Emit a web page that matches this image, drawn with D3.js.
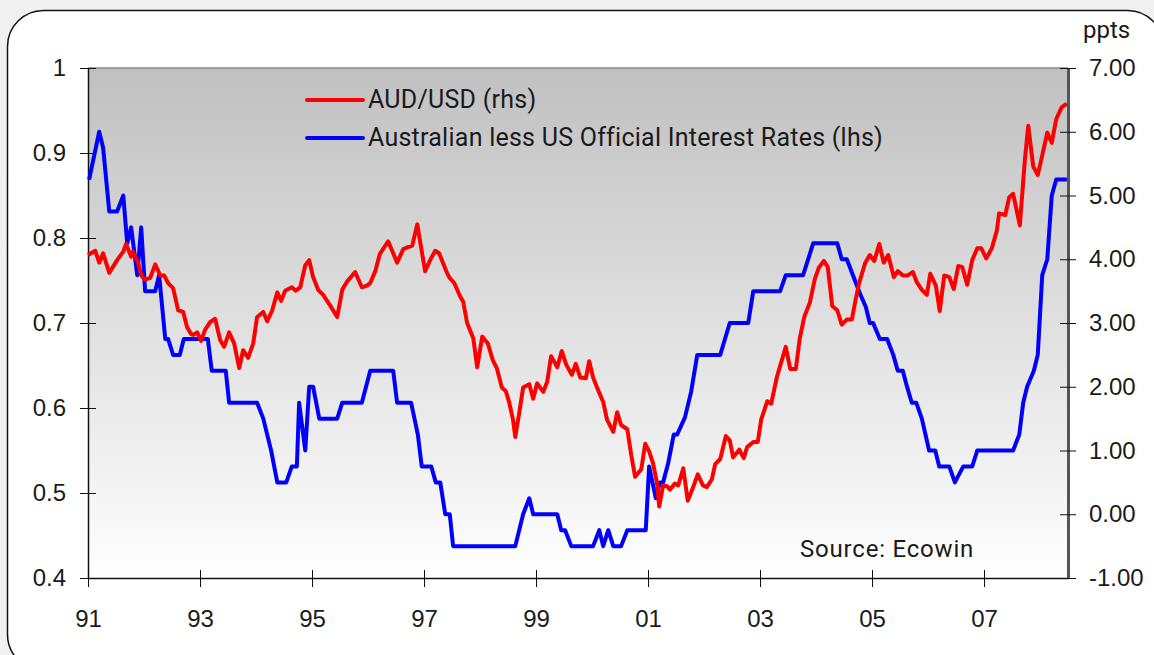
<!DOCTYPE html>
<html>
<head>
<meta charset="utf-8">
<script src="https://cdn.jsdelivr.net/npm/d3@7"></script>
<style>
  body { margin: 0; background: #f0f0f0; }
  svg { display: block; font-family: Roboto, "Noto Sans", sans-serif; }
  .axis text { font-size: 24px; fill: #1a1a1a; }
</style>
</head>
<body>
<script>
// AUD/USD (decimal year, value on the left scale)
var audDates = [1991.00, 1991.13, 1991.20, 1991.27, 1991.38, 1991.52, 1991.63, 1991.68, 1991.77, 1991.80,
  1991.89, 1991.95, 1992.02, 1992.11, 1992.20, 1992.29, 1992.36, 1992.43, 1992.52, 1992.61,
  1992.70, 1992.77, 1992.84, 1992.88, 1992.95, 1993.02, 1993.09, 1993.18, 1993.27, 1993.36,
  1993.43, 1993.52, 1993.61, 1993.70, 1993.77, 1993.86, 1993.95, 1994.02, 1994.13, 1994.20,
  1994.29, 1994.38, 1994.45, 1994.52, 1994.64, 1994.71, 1994.79, 1994.88, 1994.95, 1995.02,
  1995.11, 1995.20, 1995.32, 1995.45, 1995.54, 1995.63, 1995.77, 1995.89, 1995.98, 1996.04,
  1996.13, 1996.21, 1996.36, 1996.45, 1996.52, 1996.63, 1996.70, 1996.79, 1996.88, 1997.02,
  1997.11, 1997.20, 1997.27, 1997.41, 1997.46, 1997.54, 1997.64, 1997.70, 1997.77, 1997.88,
  1997.95, 1998.04, 1998.14, 1998.23, 1998.30, 1998.39, 1998.46, 1998.52, 1998.59, 1998.63,
  1998.70, 1998.77, 1998.88, 1998.95, 1999.02, 1999.13, 1999.20, 1999.27, 1999.38, 1999.46,
  1999.54, 1999.64, 1999.71, 1999.79, 1999.89, 1999.95, 2000.02, 2000.11, 2000.20, 2000.27,
  2000.38, 2000.45, 2000.52, 2000.63, 2000.70, 2000.77, 2000.88, 2000.95, 2001.02, 2001.09,
  2001.16, 2001.20, 2001.27, 2001.34, 2001.39, 2001.48, 2001.54, 2001.63, 2001.71, 2001.79,
  2001.89, 2001.98, 2002.05, 2002.14, 2002.20, 2002.29, 2002.39, 2002.46, 2002.52, 2002.63,
  2002.71, 2002.77, 2002.88, 2002.96, 2003.02, 2003.13, 2003.20, 2003.30, 2003.46, 2003.54,
  2003.64, 2003.71, 2003.79, 2003.89, 2003.98, 2004.05, 2004.14, 2004.21, 2004.29, 2004.38,
  2004.46, 2004.55, 2004.64, 2004.70, 2004.77, 2004.88, 2004.96, 2005.04, 2005.13, 2005.21,
  2005.29, 2005.39, 2005.46, 2005.55, 2005.64, 2005.73, 2005.80, 2005.89, 2005.98, 2006.04,
  2006.14, 2006.21, 2006.29, 2006.38, 2006.46, 2006.54, 2006.61, 2006.70, 2006.79, 2006.88,
  2006.95, 2007.04, 2007.14, 2007.23, 2007.27, 2007.38, 2007.45, 2007.52, 2007.64, 2007.73,
  2007.79, 2007.88, 2007.96, 2008.05, 2008.13, 2008.21, 2008.29, 2008.39, 2008.48];
var audValues = [0.780, 0.785, 0.771, 0.782, 0.759, 0.774, 0.784, 0.793, 0.778, 0.784,
  0.772, 0.756, 0.751, 0.753, 0.769, 0.756, 0.756, 0.747, 0.741, 0.715,
  0.713, 0.695, 0.687, 0.686, 0.689, 0.679, 0.692, 0.701, 0.705, 0.680,
  0.672, 0.689, 0.676, 0.647, 0.668, 0.659, 0.676, 0.707, 0.713, 0.702,
  0.715, 0.736, 0.726, 0.738, 0.742, 0.738, 0.742, 0.768, 0.774, 0.754,
  0.739, 0.733, 0.721, 0.707, 0.739, 0.749, 0.760, 0.742, 0.744, 0.747,
  0.761, 0.781, 0.796, 0.782, 0.771, 0.787, 0.789, 0.791, 0.816, 0.761,
  0.774, 0.785, 0.782, 0.759, 0.753, 0.747, 0.732, 0.725, 0.700, 0.682,
  0.648, 0.684, 0.676, 0.656, 0.647, 0.624, 0.620, 0.607, 0.586, 0.566,
  0.594, 0.624, 0.628, 0.611, 0.629, 0.619, 0.631, 0.661, 0.648, 0.667,
  0.651, 0.639, 0.652, 0.636, 0.635, 0.655, 0.636, 0.621, 0.607, 0.586,
  0.572, 0.595, 0.580, 0.575, 0.545, 0.519, 0.528, 0.558, 0.549, 0.535,
  0.512, 0.484, 0.509, 0.508, 0.504, 0.511, 0.509, 0.529, 0.491, 0.504,
  0.522, 0.509, 0.507, 0.516, 0.534, 0.540, 0.567, 0.562, 0.542, 0.551,
  0.541, 0.554, 0.560, 0.560, 0.586, 0.608, 0.605, 0.636, 0.672, 0.646,
  0.646, 0.682, 0.707, 0.724, 0.752, 0.765, 0.773, 0.766, 0.720, 0.715,
  0.698, 0.704, 0.704, 0.725, 0.747, 0.771, 0.780, 0.773, 0.793, 0.771,
  0.780, 0.754, 0.761, 0.756, 0.756, 0.760, 0.748, 0.739, 0.733, 0.758,
  0.744, 0.714, 0.756, 0.754, 0.740, 0.767, 0.766, 0.745, 0.774, 0.788,
  0.788, 0.776, 0.788, 0.809, 0.829, 0.827, 0.848, 0.852, 0.815, 0.892,
  0.932, 0.884, 0.874, 0.900, 0.924, 0.912, 0.940, 0.954, 0.958];

// Australian less US official rates, ppts (right scale)
var rateDates = [1991.02, 1991.20, 1991.27, 1991.38, 1991.52, 1991.63, 1991.70, 1991.77, 1991.88, 1991.95,
  1992.02, 1992.20, 1992.27, 1992.38, 1992.43, 1992.52, 1992.64, 1992.71, 1993.14, 1993.21,
  1993.46, 1993.52, 1994.02, 1994.13, 1994.27, 1994.38, 1994.54, 1994.64, 1994.73, 1994.77,
  1994.88, 1994.95, 1995.02, 1995.13, 1995.45, 1995.54, 1995.89, 1996.04, 1996.45, 1996.52,
  1996.77, 1996.89, 1996.96, 1997.13, 1997.21, 1997.29, 1997.38, 1997.46, 1997.52, 1998.63,
  1998.77, 1998.88, 1998.95, 1999.38, 1999.45, 1999.52, 1999.63, 2000.02, 2000.13, 2000.20,
  2000.29, 2000.38, 2000.52, 2000.63, 2000.96, 2001.02, 2001.14, 2001.21, 2001.27, 2001.36,
  2001.46, 2001.52, 2001.66, 2001.77, 2001.88, 2002.29, 2002.46, 2002.79, 2002.88, 2003.36,
  2003.46, 2003.77, 2003.95, 2004.38, 2004.46, 2004.55, 2004.66, 2004.79, 2004.89, 2004.96,
  2005.02, 2005.14, 2005.27, 2005.38, 2005.46, 2005.55, 2005.61, 2005.71, 2005.79, 2005.89,
  2006.02, 2006.13, 2006.20, 2006.38, 2006.48, 2006.63, 2006.79, 2006.88, 2007.52, 2007.63,
  2007.70, 2007.77, 2007.89, 2007.96, 2008.04, 2008.13, 2008.21, 2008.29, 2008.48];
var rateValues = [5.25, 6.00, 5.75, 4.75, 4.75, 5.00, 4.25, 4.50, 3.75, 4.50,
  3.50, 3.50, 3.75, 2.75, 2.75, 2.50, 2.50, 2.75, 2.75, 2.25,
  2.25, 1.75, 1.75, 1.50, 1.00, 0.50, 0.50, 0.75, 0.75, 1.75,
  1.00, 2.00, 2.00, 1.50, 1.50, 1.75, 1.75, 2.25, 2.25, 1.75,
  1.75, 1.25, 0.75, 0.75, 0.50, 0.50, 0.00, 0.00, -0.50, -0.50,
  0.00, 0.25, 0.00, 0.00, -0.25, -0.25, -0.50, -0.50, -0.25, -0.50,
  -0.25, -0.50, -0.50, -0.25, -0.25, 0.75, 0.25, 0.50, 0.50, 0.80,
  1.25, 1.25, 1.52, 1.92, 2.50, 2.50, 3.00, 3.00, 3.50, 3.50,
  3.75, 3.75, 4.25, 4.25, 4.00, 4.00, 3.75, 3.45, 3.25, 3.00,
  3.00, 2.75, 2.75, 2.50, 2.25, 2.25, 2.05, 1.75, 1.75, 1.50,
  1.00, 1.00, 0.75, 0.75, 0.50, 0.75, 0.75, 1.00, 1.00, 1.25,
  1.75, 2.00, 2.25, 2.50, 3.75, 4.00, 5.00, 5.25, 5.25];

var leftTicks = [0.4, 0.5, 0.6, 0.7, 0.8, 0.9, 1];
var rightTicks = [-1, 0, 1, 2, 3, 4, 5, 6, 7];
var yearTicks = [1991, 1993, 1995, 1997, 1999, 2001, 2003, 2005, 2007];
var seriesNames = ["AUD/USD (rhs)", "Australian less US Official Interest Rates (lhs)"];
var seriesColors = ["#ff0000", "#0000ff"];

var W = 1154, H = 655;
var margin = {top: 68, right: 86, bottom: 77, left: 88},
    width = W - margin.left - margin.right,
    height = H - margin.top - margin.bottom;

var svg = d3.select("body").append("svg")
    .attr("width", W)
    .attr("height", H);

// rounded white panel
svg.append("rect")
    .attr("x", 7.5).attr("y", 10.5)
    .attr("width", 1156).attr("height", 660)
    .attr("rx", 36).attr("ry", 36)
    .attr("fill", "#fff")
    .attr("stroke", "#111")
    .attr("stroke-width", 1.5);

var defs = svg.append("defs");
var grad = defs.append("linearGradient")
    .attr("id", "bg").attr("x1", 0).attr("y1", 0).attr("x2", 0).attr("y2", 1);
grad.append("stop").attr("offset", "0%").attr("stop-color", "#c0c0c0");
grad.append("stop").attr("offset", "100%").attr("stop-color", "#ffffff");

var g = svg.append("g")
    .attr("transform", "translate(" + margin.left + "," + margin.top + ")");

var x = d3.scaleLinear().domain([1991, 2008.5]).range([0, width]);
var yL = d3.scaleLinear().domain([0.4, 1]).range([height, 0]);
var yR = d3.scaleLinear().domain([-1, 7]).range([height, 0]);

g.append("rect")
    .attr("width", width).attr("height", height)
    .attr("fill", "url(#bg)");

// top edge of plot
g.append("line")
    .attr("x1", 0).attr("x2", width)
    .attr("stroke", "#8a8a8a").attr("stroke-width", 1.5);

// x axis
var xAxis = g.append("g")
    .attr("class", "axis")
    .attr("transform", "translate(0," + height + ")")
    .call(d3.axisBottom(x).tickValues(yearTicks).tickSize(9).tickSizeOuter(0).tickPadding(23)
      .tickFormat(function(d) { return String(d).slice(2); }));
xAxis.selectAll(".tick line").attr("y1", -8).attr("stroke", "#111");
xAxis.select(".domain").attr("stroke", "#111").attr("stroke-width", 1.5);

// left axis
var lAxis = g.append("g")
    .attr("class", "axis")
    .call(d3.axisLeft(yL).tickValues(leftTicks).tickSize(8).tickSizeOuter(0).tickPadding(14)
      .tickFormat(function(d) { return String(d); }));
lAxis.selectAll(".tick line").attr("x1", 8).attr("stroke", "#111");
lAxis.select(".domain").attr("stroke", "#111").attr("stroke-width", 1.5);

// right axis
var rAxis = g.append("g")
    .attr("class", "axis")
    .attr("transform", "translate(" + width + ",0)")
    .call(d3.axisRight(yR).tickValues(rightTicks).tickSize(8).tickSizeOuter(0).tickPadding(13)
      .tickFormat(function(d) { return d.toFixed(2); }));
rAxis.selectAll(".tick line").attr("x1", -8).attr("stroke", "#111");
rAxis.select(".domain").attr("stroke", "#555").attr("stroke-width", 3);

svg.append("text")
    .attr("x", 1083).attr("y", 38)
    .attr("font-size", 24).attr("fill", "#1a1a1a")
    .text("ppts");

// lines
var audLine = d3.line()
    .x(function(d, i) { return x(audDates[i]); })
    .y(function(d) { return yL(d); });
var rateLine = d3.line()
    .x(function(d, i) { return x(rateDates[i]); })
    .y(function(d) { return yR(d); });

g.append("path")
    .datum(rateValues)
    .attr("d", rateLine)
    .attr("fill", "none")
    .attr("stroke", seriesColors[1])
    .attr("stroke-width", 4)
    .attr("stroke-linejoin", "round");

g.append("path")
    .datum(audValues)
    .attr("d", audLine)
    .attr("fill", "none")
    .attr("stroke", seriesColors[0])
    .attr("stroke-width", 4)
    .attr("stroke-linejoin", "round");

// legend
var legend = svg.append("g")
    .attr("font-size", 25)
    .attr("letter-spacing", 0.25)
  .selectAll("g")
  .data(seriesNames)
  .enter().append("g")
    .attr("transform", function(d, i) { return "translate(307," + (100 + i * 38) + ")"; });

legend.append("line")
    .attr("x1", 0).attr("x2", 56)
    .attr("stroke", function(d, i) { return seriesColors[i]; })
    .attr("stroke-width", 4)
    .attr("stroke-linecap", "round");

legend.append("text")
    .attr("x", 61)
    .attr("y", 8)
    .attr("fill", "#1a1a1a")
    .text(function(d) { return d; });

svg.append("text")
    .attr("x", 800).attr("y", 557)
    .attr("font-size", 24).attr("letter-spacing", 0.8).attr("fill", "#1a1a1a")
    .text("Source: Ecowin");
</script>
</body>
</html>
